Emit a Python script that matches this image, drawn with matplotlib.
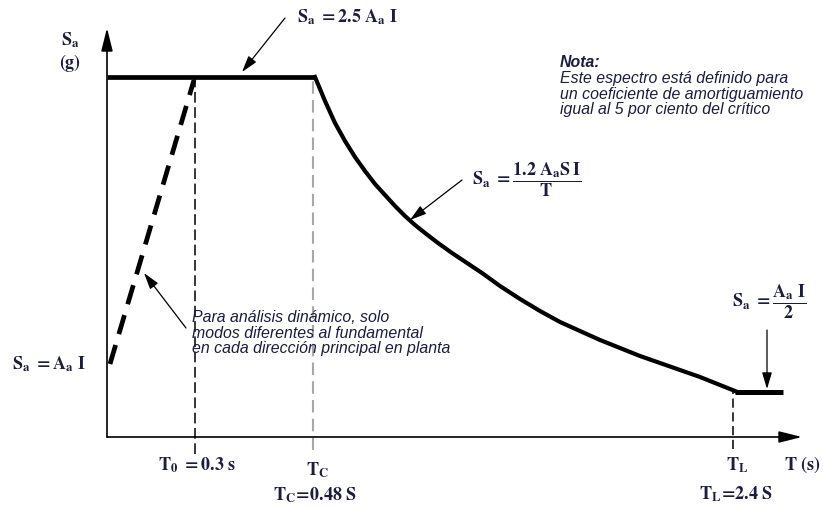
import matplotlib.pyplot as plt

plt.rcParams["mathtext.fontset"] = "stix"

# Schematic spectrum (not to scale): x = period position, y = Sa level
plateau_t = [0.0, 2.08]
plateau_sa = [3.60, 3.60]

ramp_t = [0.03, 0.87]
ramp_sa = [0.73, 3.57]

curve_t = [2.08, 2.18, 2.28, 2.38, 2.48, 2.58, 2.68, 2.78, 2.88, 2.98,
           3.08, 3.18, 3.31, 3.45, 3.60, 3.75, 3.93, 4.13, 4.33, 4.53,
           4.73, 4.93, 5.13, 5.33, 5.53, 5.73, 5.93, 6.13, 6.28]
curve_sa = [3.60, 3.36, 3.14, 2.96, 2.80, 2.66, 2.53, 2.42, 2.31, 2.21,
            2.12, 2.04, 1.94, 1.84, 1.74, 1.64, 1.51, 1.38, 1.26, 1.15,
            1.06, 0.97, 0.89, 0.81, 0.74, 0.67, 0.60, 0.52, 0.46]

tail_t = [6.28, 6.76]
tail_sa = [0.45, 0.45]

T0_X, TC_X, TL_X = 0.88, 2.06, 6.26

TXT = "#1c1c3c"
SERIF = dict(color=TXT, fontsize=13)
NOTE = dict(color=TXT, fontsize=11.4, style="italic", family="Liberation Sans")

fig = plt.figure(figsize=(8.23, 5.08), dpi=100)
ax = fig.add_axes([0, 0, 1, 1])
ax.set_xlim(-1.07, 7.16)
ax.set_ylim(-0.71, 4.37)
ax.axis("off")

# axes with arrow heads
arrow_axis = dict(arrowstyle="-|>,head_length=1.4,head_width=0.35", lw=1.2, color="black",
                  shrinkA=0, shrinkB=0)
ax.annotate("", xy=(0, 4.09), xytext=(0, 0), arrowprops=arrow_axis)
ax.annotate("", xy=(6.95, 0), xytext=(0, 0), arrowprops=arrow_axis)

# spectrum
ax.plot(plateau_t, plateau_sa, color="black", lw=3.4, solid_capstyle="butt")
ax.plot(curve_t, curve_sa, color="black", lw=3.0, solid_joinstyle="round")
ax.plot(tail_t, tail_sa, color="black", lw=3.6, solid_capstyle="butt")
ax.plot(ramp_t, ramp_sa, color="black", lw=3.4, dashes=(4.2, 2.4), dash_capstyle="butt")

# reference verticals
ax.plot([T0_X, T0_X], [-0.17, 3.60], color="black", lw=1.1, dashes=(7, 3))
ax.plot([TC_X, TC_X], [-0.13, 3.58], color="#a8a8a8", lw=1.5, dashes=(6, 3))
ax.plot([TL_X, TL_X], [-0.12, 0.45], color="black", lw=1.1, dashes=(6, 3))

# axis labels
ax.text(-0.37, 3.97, r"$\mathbf{S_a}$", ha="center", va="center", **SERIF)
ax.text(-0.37, 3.74, r"$\mathbf{(g)}$", ha="center", va="center", **SERIF)
ax.text(0.90, -0.28, r"$\mathbf{T_0\ =0.3\ s}$", ha="center", va="center", **SERIF)
ax.text(2.10, -0.33, r"$\mathbf{T_C}$", ha="center", va="center", **SERIF)
ax.text(2.08, -0.58, r"$\mathbf{T_C\!=\!0.48\ S}$", ha="center", va="center", **SERIF)
ax.text(6.30, -0.28, r"$\mathbf{T_L}$", ha="center", va="center", **SERIF)
ax.text(6.95, -0.28, r"$\mathbf{T\ (s)}$", ha="center", va="center", **SERIF)
ax.text(6.29, -0.57, r"$\mathbf{T_L\!=\!2.4\ S}$", ha="center", va="center", **SERIF)
ax.text(-0.58, 0.73, r"$\mathbf{S_a\ =A_a\ I}$", ha="center", va="center", **SERIF)

# formula callouts
thin = dict(arrowstyle="-|>,head_length=1.0,head_width=0.3", lw=0.9, color="black",
            shrinkA=0, shrinkB=0)
ax.text(2.40, 4.20, r"$\mathbf{S_a\ =2.5\ A_a\ I}$", ha="center", va="center", **SERIF)
ax.annotate("", xy=(1.35, 3.65), xytext=(1.78, 4.19), arrowprops=thin)

ax.text(4.20, 2.57, r"$\mathbf{S_a\ =\dfrac{1.2\ A_aS\,I}{T}}$", ha="center", va="center", **SERIF)
ax.annotate("", xy=(3.03, 2.17), xytext=(3.55, 2.57), arrowprops=thin)

ax.text(6.62, 1.35, r"$\mathbf{S_a\ =\dfrac{A_a\ I}{2}}$", ha="center", va="center", **SERIF)
ax.annotate("", xy=(6.60, 0.48), xytext=(6.60, 1.07), arrowprops=thin)

ax.text(0.85, 1.04, "Para análisis dinámico, solo\nmodos diferentes al fundamental\n"
        "en cada dirección principal en planta", ha="left", va="center",
        linespacing=1.06, **NOTE)
ax.annotate("", xy=(0.37, 1.64), xytext=(0.79, 1.09), arrowprops=thin)

ax.text(4.53, 3.75, "Nota:", ha="left", va="center", weight="bold", **NOTE)
ax.text(4.53, 3.43, "Este espectro está definido para\nun coeficiente de amortiguamiento\n"
        "igual al 5 por ciento del crítico", ha="left", va="center",
        linespacing=1.08, **NOTE)

fig.savefig("out.png", dpi=100)
